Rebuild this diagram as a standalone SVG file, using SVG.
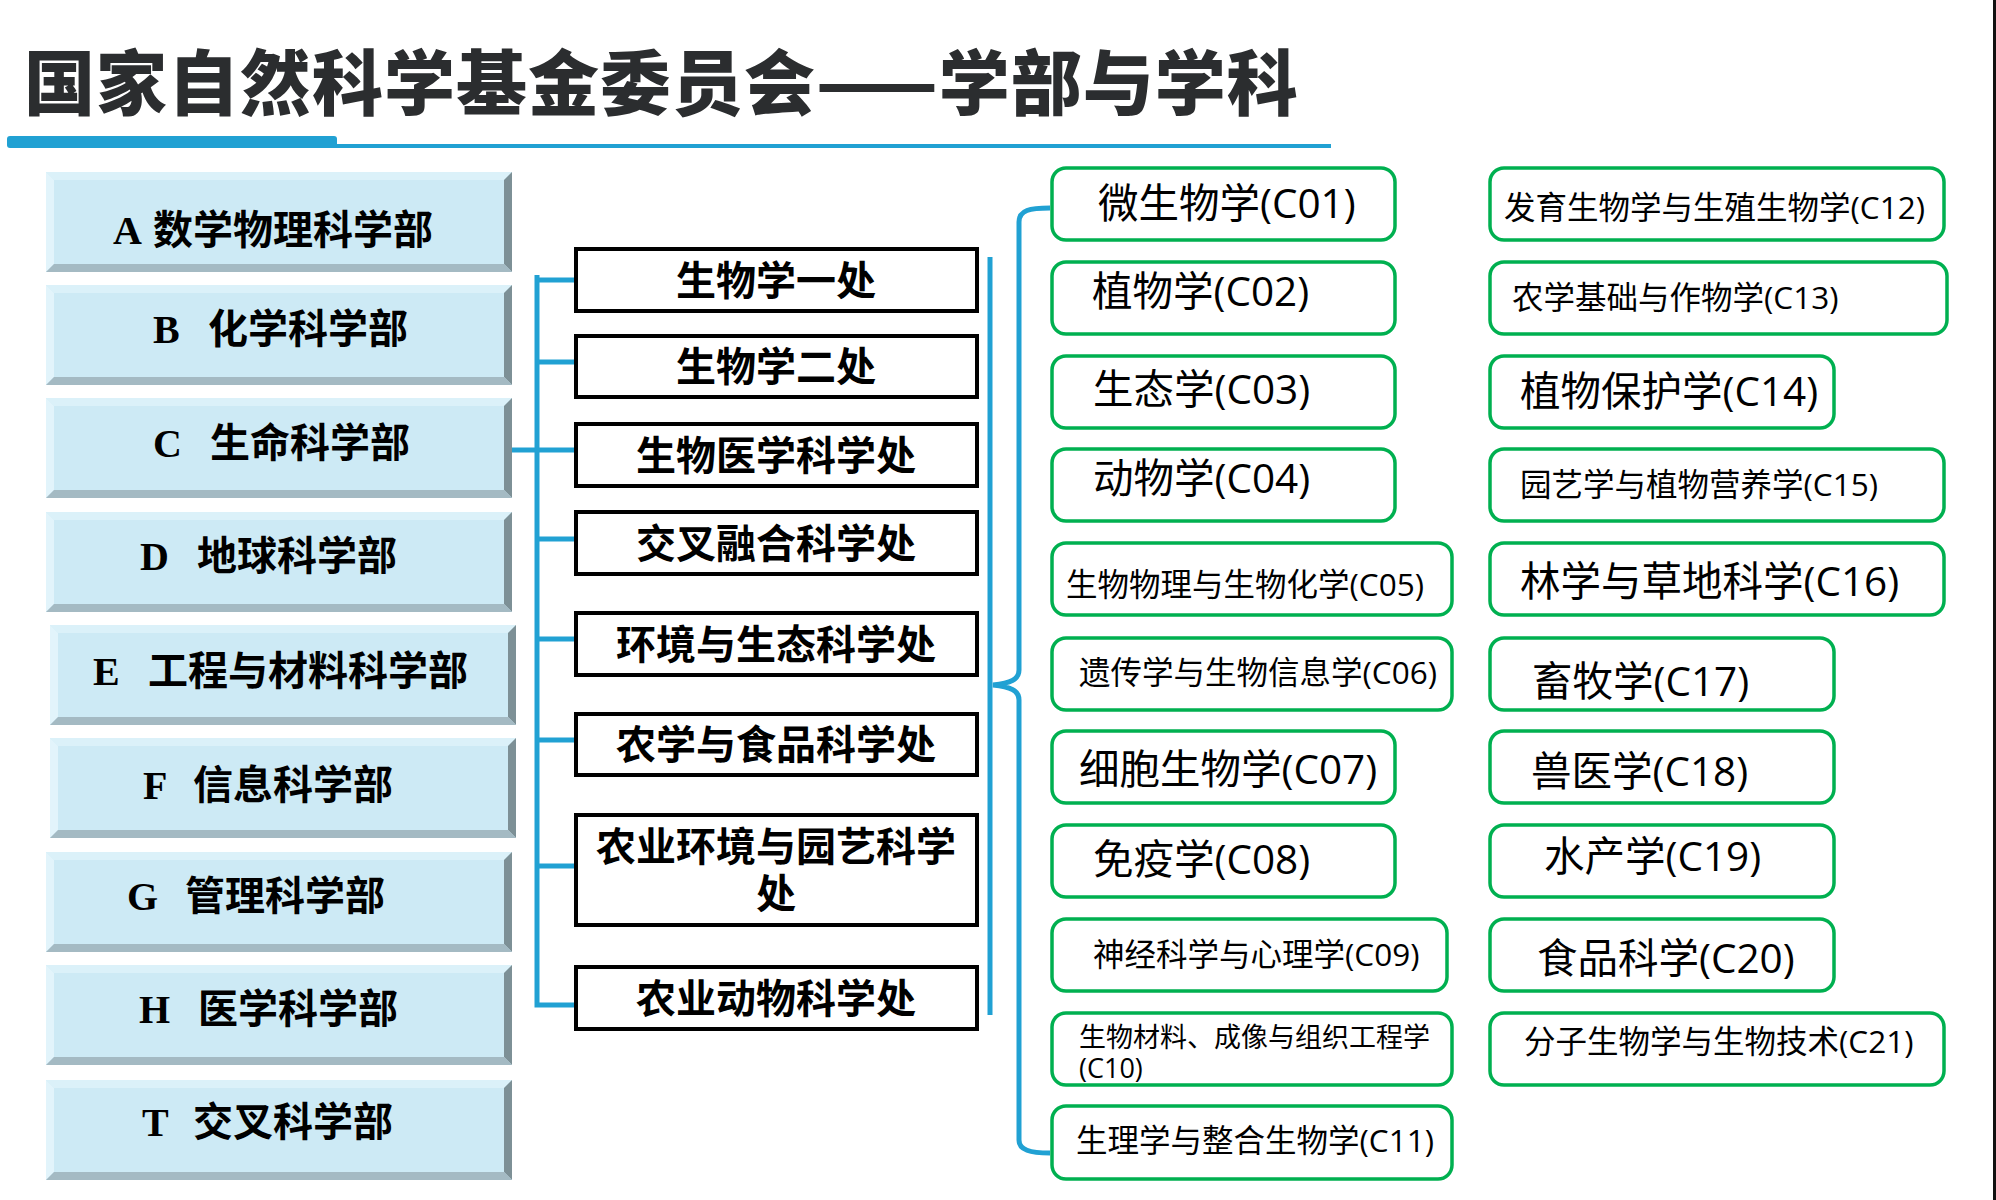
<svg xmlns="http://www.w3.org/2000/svg" width="1996" height="1200" viewBox="0 0 1996 1200">
<style>
.title{font-family:"Noto Sans CJK SC",sans-serif;font-weight:900;font-size:71px;letter-spacing:1px;fill:#2b2d2f}
.face{fill:#cdeaf5}
.bt{fill:#dbf1f9}
.bl{fill:#e2f4fb}
.br{fill:#7d9096}
.bb{fill:#a4bac3}
.dept{font-family:"Liberation Serif","Noto Sans CJK SC",serif;font-weight:bold;font-size:40px;fill:#000}
.office rect{fill:#fff;stroke:#000;stroke-width:4}
.otxt{font-family:"Noto Sans CJK SC",sans-serif;font-weight:bold;font-size:40px;fill:#000;text-anchor:middle}
.disc rect{fill:#fff;stroke:#00b050;stroke-width:3.5}
.dtxt{font-family:"Open Sans","Noto Sans CJK SC",sans-serif;fill:#000}
.l{font-size:40.5px}
.m{font-size:31.5px}
.s{font-size:27px}
.conn{fill:none;stroke:#21a1d3;stroke-width:5}
</style>
<rect x="0" y="0" width="1996" height="1200" fill="#fff"/>
<rect x="1993" y="0" width="3" height="1200" fill="#111"/>
<g id="title">
<text class="title" x="24" y="109">国家自然科学基金委员会——学部与学科</text>
<rect x="7" y="136" width="330" height="12" rx="3" fill="#21a1d3"/>
<rect x="330" y="144" width="1001" height="4" fill="#21a1d3"/>
</g>
<defs>
<g id="bevel">
<rect class="face" x="0" y="0" width="466" height="100"/>
<polygon class="bt" points="0,0 466,0 458,8 8,8"/>
<polygon class="bl" points="0,0 8,8 8,92 0,100"/>
<polygon class="br" points="466,0 466,100 458,92 458,8"/>
<polygon class="bb" points="0,100 466,100 458,92 8,92"/>
</g>
</defs>
<g id="dept-A"><use href="#bevel" x="46" y="172"/><text class="dept" y="244"><tspan x="113">A</tspan><tspan x="153">数学物理科学部</tspan></text></g>
<g id="dept-B"><use href="#bevel" x="46" y="285"/><text class="dept" y="343"><tspan x="153">B</tspan><tspan x="208">化学科学部</tspan></text></g>
<g id="dept-C"><use href="#bevel" x="46" y="398"/><text class="dept" y="457"><tspan x="153">C</tspan><tspan x="210">生命科学部</tspan></text></g>
<g id="dept-D"><use href="#bevel" x="46" y="512"/><text class="dept" y="570"><tspan x="140">D</tspan><tspan x="197">地球科学部</tspan></text></g>
<g id="dept-E"><use href="#bevel" x="50" y="625"/><text class="dept" y="685"><tspan x="93">E</tspan><tspan x="148">工程与材料科学部</tspan></text></g>
<g id="dept-F"><use href="#bevel" x="50" y="738"/><text class="dept" y="799"><tspan x="143">F</tspan><tspan x="193">信息科学部</tspan></text></g>
<g id="dept-G"><use href="#bevel" x="46" y="852"/><text class="dept" y="910"><tspan x="127">G</tspan><tspan x="185">管理科学部</tspan></text></g>
<g id="dept-H"><use href="#bevel" x="46" y="965"/><text class="dept" y="1023"><tspan x="139">H</tspan><tspan x="198">医学科学部</tspan></text></g>
<g id="dept-T"><use href="#bevel" x="46" y="1080"/><text class="dept" y="1136"><tspan x="142">T</tspan><tspan x="193">交叉科学部</tspan></text></g>

<g id="connectors">
<path class="conn" d="M512,450 H537"/>
<path class="conn" d="M537,275 V1005 H574"/>
<path class="conn" d="M537,280 H574 M537,362 H574 M537,450 H574 M537,539 H574 M537,639 H574 M537,740 H574 M537,866 H574"/>
<path class="conn" d="M990,257 V1015"/>
<path class="conn" d="M1050,208 C1030,208 1019,210 1019,222 L1019,670 C1019,680 1010,683 993,685 C1010,687 1019,690 1019,700 L1019,1140 C1019,1150 1030,1153 1050,1153"/>
</g>

<g id="office-1" class="office"><rect x="576" y="249" width="401" height="62"/><text class="otxt" x="776" y="295">生物学一处</text></g>
<g id="office-2" class="office"><rect x="576" y="336" width="401" height="61"/><text class="otxt" x="776" y="381">生物学二处</text></g>
<g id="office-3" class="office"><rect x="576" y="424" width="401" height="62"/><text class="otxt" x="776" y="470">生物医学科学处</text></g>
<g id="office-4" class="office"><rect x="576" y="512" width="401" height="62"/><text class="otxt" x="776" y="558">交叉融合科学处</text></g>
<g id="office-5" class="office"><rect x="576" y="613" width="401" height="62"/><text class="otxt" x="776" y="659">环境与生态科学处</text></g>
<g id="office-6" class="office"><rect x="576" y="714" width="401" height="61"/><text class="otxt" x="776" y="759">农学与食品科学处</text></g>
<g id="office-7" class="office"><rect x="576" y="815" width="401" height="110"/><text class="otxt"><tspan x="776" y="861">农业环境与园艺科学</tspan><tspan x="776" y="908">处</tspan></text></g>
<g id="office-8" class="office"><rect x="576" y="967" width="401" height="62"/><text class="otxt" x="776" y="1013">农业动物科学处</text></g>

<g id="C01" class="disc"><rect x="1052" y="168" width="343" height="72" rx="14"/><text class="dtxt l" x="1098" y="218">微生物学(C01)</text></g>
<g id="C02" class="disc"><rect x="1052" y="262" width="343" height="72" rx="14"/><text class="dtxt l" x="1092" y="306">植物学(C02)</text></g>
<g id="C03" class="disc"><rect x="1052" y="356" width="343" height="72" rx="14"/><text class="dtxt l" x="1093" y="404">生态学(C03)</text></g>
<g id="C04" class="disc"><rect x="1052" y="449" width="343" height="72" rx="14"/><text class="dtxt l" x="1093" y="493">动物学(C04)</text></g>
<g id="C05" class="disc"><rect x="1052" y="543" width="400" height="72" rx="14"/><text class="dtxt m" x="1066" y="596">生物物理与生物化学(C05)</text></g>
<g id="C06" class="disc"><rect x="1052" y="638" width="400" height="72" rx="14"/><text class="dtxt m" x="1079" y="684">遗传学与生物信息学(C06)</text></g>
<g id="C07" class="disc"><rect x="1052" y="731" width="343" height="72" rx="14"/><text class="dtxt l" x="1079" y="784">细胞生物学(C07)</text></g>
<g id="C08" class="disc"><rect x="1052" y="825" width="343" height="72" rx="14"/><text class="dtxt l" x="1093" y="874">免疫学(C08)</text></g>
<g id="C09" class="disc"><rect x="1052" y="919" width="395" height="72" rx="14"/><text class="dtxt m" x="1093" y="966">神经科学与心理学(C09)</text></g>
<g id="C10" class="disc"><rect x="1052" y="1013" width="400" height="72" rx="14"/><text class="dtxt s"><tspan x="1079" y="1047">生物材料、成像与组织工程学</tspan><tspan x="1079" y="1078">(C10)</tspan></text></g>
<g id="C11" class="disc"><rect x="1052" y="1106" width="400" height="73" rx="14"/><text class="dtxt m" x="1076" y="1152">生理学与整合生物学(C11)</text></g>

<g id="C12" class="disc"><rect x="1490" y="168" width="454" height="72" rx="14"/><text class="dtxt m" x="1504" y="219">发育生物学与生殖生物学(C12)</text></g>
<g id="C13" class="disc"><rect x="1490" y="262" width="457" height="72" rx="14"/><text class="dtxt m" x="1512" y="309">农学基础与作物学(C13)</text></g>
<g id="C14" class="disc"><rect x="1490" y="356" width="344" height="72" rx="14"/><text class="dtxt l" x="1520" y="406">植物保护学(C14)</text></g>
<g id="C15" class="disc"><rect x="1490" y="449" width="454" height="72" rx="14"/><text class="dtxt m" x="1520" y="496">园艺学与植物营养学(C15)</text></g>
<g id="C16" class="disc"><rect x="1490" y="543" width="454" height="72" rx="14"/><text class="dtxt l" x="1520" y="596">林学与草地科学(C16)</text></g>
<g id="C17" class="disc"><rect x="1490" y="638" width="344" height="72" rx="14"/><text class="dtxt l" x="1532" y="696">畜牧学(C17)</text></g>
<g id="C18" class="disc"><rect x="1490" y="731" width="344" height="72" rx="14"/><text class="dtxt l" x="1531" y="786">兽医学(C18)</text></g>
<g id="C19" class="disc"><rect x="1490" y="825" width="344" height="72" rx="14"/><text class="dtxt l" x="1544" y="871">水产学(C19)</text></g>
<g id="C20" class="disc"><rect x="1490" y="919" width="344" height="72" rx="14"/><text class="dtxt l" x="1537" y="973">食品科学(C20)</text></g>
<g id="C21" class="disc"><rect x="1490" y="1013" width="454" height="72" rx="14"/><text class="dtxt m" x="1524" y="1053">分子生物学与生物技术(C21)</text></g>
</svg>
